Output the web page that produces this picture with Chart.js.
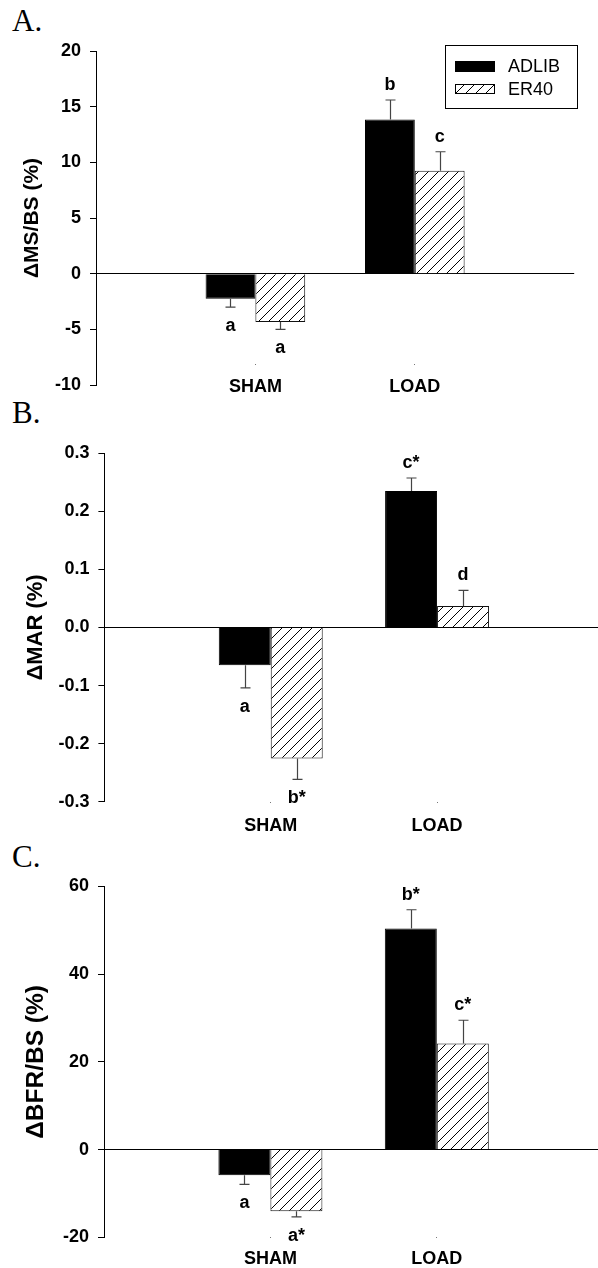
<!DOCTYPE html>
<html>
<head>
<meta charset="utf-8">
<script src="https://cdn.jsdelivr.net/npm/chart.js@4.4.1/dist/chart.umd.min.js"></script>
<style>
  body { margin: 0; background: #fff; overflow: hidden; width: 598px; height: 1268px; position: relative; }
  canvas { position: absolute; left: 0; }
  .tag { position: absolute; left: 12px; font: 31px/31px "Liberation Serif", "Times New Roman", serif; color: #000; }
  #legend { position: absolute; left: 445px; top: 45px; width: 131px; height: 62px; border: 1px solid #000; }
  #legend .sw { position: absolute; left: 9px; width: 40px; }
  #legend .lb { position: absolute; left: 62px; height: 20px; font: 18px/20px "Liberation Sans", Arial, sans-serif; color: #000; }
</style>
</head>
<body>
<div class="tag" style="top:5px">A.</div>
<div class="tag" style="top:397px">B.</div>
<div class="tag" style="top:841px">C.</div>

<canvas id="msbs" width="598" height="408" style="top:0"></canvas>
<canvas id="mar" width="620" height="440" style="top:400px"></canvas>
<canvas id="bfr" width="620" height="428" style="top:840px"></canvas>

<div id="legend">
  <div class="sw" style="top:14.7px;height:11px;background:#000"></div>
  <div class="lb" style="top:10px">ADLIB</div>
  <canvas class="sw" id="er40sw" width="40" height="10" style="top:38.3px"></canvas>
  <div class="lb" style="top:33px">ER40</div>
</div>

<script>
const groups = ['SHAM', 'LOAD'];

// ΔMS/BS (%)
const msbsAdlib = [-2.25, 13.85];
const msbsEr40 = [-4.35, 9.25];
const msbsAdlibErr = [0.75, 1.75];
const msbsEr40Err = [0.65, 1.7];
const msbsAdlibSig = ['a', 'b'];
const msbsEr40Sig = ['a', 'c'];
const msbsTicks = [-10, -5, 0, 5, 10, 15, 20];

// ΔMAR (%)
const marAdlib = [-0.065, 0.235];
const marEr40 = [-0.2255, 0.037];
const marAdlibErr = [0.039, 0.0225];
const marEr40Err = [0.036, 0.027];
const marAdlibSig = ['a', 'c*'];
const marEr40Sig = ['b*', 'd'];
const marTicks = [-0.3, -0.2, -0.1, 0, 0.1, 0.2, 0.3];

// ΔBFR/BS (%)
const bfrAdlib = [-5.85, 50.4];
const bfrEr40 = [-14.05, 24.2];
const bfrAdlibErr = [2.1, 4.3];
const bfrEr40Err = [1.3, 5.3];
const bfrAdlibSig = ['a', 'b*'];
const bfrEr40Sig = ['a*', 'c*'];
const bfrTicks = [-20, 0, 20, 40, 60];

const sans = '"Liberation Sans", Arial, Helvetica, sans-serif';

// diagonal hatch for the ER40 bars
function hatchPattern() {
  const c = document.createElement('canvas');
  c.width = 10; c.height = 10;
  const g = c.getContext('2d');
  g.fillStyle = '#fff';
  g.fillRect(0, 0, 10, 10);
  g.strokeStyle = '#000';
  g.lineWidth = 1;
  g.beginPath();
  g.moveTo(0, 10); g.lineTo(10, 0);
  g.moveTo(-5, 5); g.lineTo(5, -5);
  g.moveTo(5, 15); g.lineTo(15, 5);
  g.stroke();
  return g.createPattern(c, 'repeat');
}
const hatch = hatchPattern();

// legend swatch
(function () {
  const c = document.getElementById('er40sw');
  const g = c.getContext('2d');
  g.fillStyle = hatch;
  g.fillRect(0, 0, 40, 10);
  g.strokeStyle = '#000';
  g.strokeRect(0.5, 0.5, 39, 9);
})();

// SEM whiskers and significance letters
const errorBars = {
  id: 'errorBars',
  afterDatasetsDraw(chart) {
    const ctx = chart.ctx;
    const y = chart.scales.y;
    chart.data.datasets.forEach((ds, di) => {
      const meta = chart.getDatasetMeta(di);
      ds.err.forEach((e, i) => {
        const bar = meta.data[i + 1];
        const v = ds.data[i + 1];
        const dir = v < 0 ? -1 : 1;
        const y0 = y.getPixelForValue(v);
        const y1 = y.getPixelForValue(v + dir * e);
        const x = Math.round(bar.x) + 0.5;
        ctx.save();
        ctx.strokeStyle = '#444';
        ctx.lineWidth = 1.2;
        ctx.beginPath();
        ctx.moveTo(x, y0);
        ctx.lineTo(x, y1);
        ctx.moveTo(x - 5, y1);
        ctx.lineTo(x + 5, y1);
        ctx.stroke();
        ctx.fillStyle = '#000';
        ctx.font = 'bold 18px ' + sans;
        ctx.textAlign = 'center';
        ctx.textBaseline = 'middle';
        ctx.fillText(ds.sig[i], bar.x, y1 + (dir > 0 ? -15 : 19));
        ctx.restore();
      });
    });
  }
};

function panel(id, p) {
  return new Chart(document.getElementById(id), {
    type: 'bar',
    data: {
      labels: ['', ...groups, ''],
      datasets: [
        { label: 'ADLIB', data: [null, ...p.adlib, null], err: p.adlibErr, sig: p.adlibSig,
          backgroundColor: '#000', borderColor: '#000', borderWidth: 1 },
        { label: 'ER40', data: [null, ...p.er40, null], err: p.er40Err, sig: p.er40Sig,
          backgroundColor: hatch, borderColor: '#111', borderWidth: 1 }
      ]
    },
    options: {
      responsive: false,
      animation: false,
      categoryPercentage: 0.625,
      barPercentage: 1,
      layout: { padding: { top: p.top, right: p.right, left: 0, bottom: p.bottom } },
      plugins: { legend: { display: false }, tooltip: { enabled: false } },
      scales: {
        x: {
          // category axis sits at a value of the y scale, like the source plot
          position: { y: p.xAt },
          offset: false,
          grid: {
            offset: false,
            drawOnChartArea: false,
            tickLength: 1,
            color: 'rgba(0,0,0,0)',
            tickColor: c => (c.tick && c.tick.label) ? '#777' : 'rgba(0,0,0,0)'
          },
          border: { display: false },
          ticks: { color: '#000', font: { family: sans, size: 18, weight: 'bold' },
                   padding: p.labelPad, maxRotation: 0, autoSkip: false }
        },
        y: {
          min: p.ticks[0],
          max: p.ticks[p.ticks.length - 1],
          afterBuildTicks: s => { s.ticks = p.ticks.map(v => ({ value: v })); },
          afterFit: s => { s.width = p.yWidth; },
          border: { color: '#000', width: 1 },
          grid: {
            color: c => (c.tick && Math.abs(c.tick.value) < 1e-9) ? '#000' : 'rgba(0,0,0,0)',
            tickColor: '#000',
            tickLength: 6,
            lineWidth: 1
          },
          ticks: { color: '#000', font: { family: sans, size: 18, weight: 'bold' }, padding: 9,
                   callback: p.fmt },
          title: { display: true, text: p.title, color: '#000',
                   font: { family: sans, size: p.titleSize, weight: 'bold' },
                   padding: { top: p.titlePad, bottom: 0 } }
        }
      }
    },
    plugins: [errorBars]
  });
}

panel('msbs', {
  adlib: msbsAdlib, er40: msbsEr40, adlibErr: msbsAdlibErr, er40Err: msbsEr40Err,
  adlibSig: msbsAdlibSig, er40Sig: msbsEr40Sig, ticks: msbsTicks, fmt: v => v,
  title: 'ΔMS/BS (%)', titleSize: 21, titlePad: 20, xAt: -8.1,
  top: 51, right: 23.8, bottom: 23, yWidth: 96, labelPad: 11.3
});

// the zero line runs past the right edge of the page in these two
panel('mar', {
  adlib: marAdlib, er40: marEr40, adlibErr: marAdlibErr, er40Err: marEr40Err,
  adlibSig: marAdlibSig, er40Sig: marEr40Sig, ticks: marTicks, fmt: v => v.toFixed(1),
  title: 'ΔMAR (%)', titleSize: 22, titlePad: 23, xAt: -0.3,
  top: 53.3, right: 16.6, bottom: 38.3, yWidth: 104.4, labelPad: 12.5
});

panel('bfr', {
  adlib: bfrAdlib, er40: bfrEr40, adlibErr: bfrAdlibErr, er40Err: bfrEr40Err,
  adlibSig: bfrAdlibSig, er40Sig: bfrEr40Sig, ticks: bfrTicks, fmt: v => v,
  title: 'ΔBFR/BS (%)', titleSize: 24.5, titlePad: 22, xAt: -20,
  top: 46.5, right: 16.8, bottom: 30.7, yWidth: 104, labelPad: 9.6
});
</script>
</body>
</html>
